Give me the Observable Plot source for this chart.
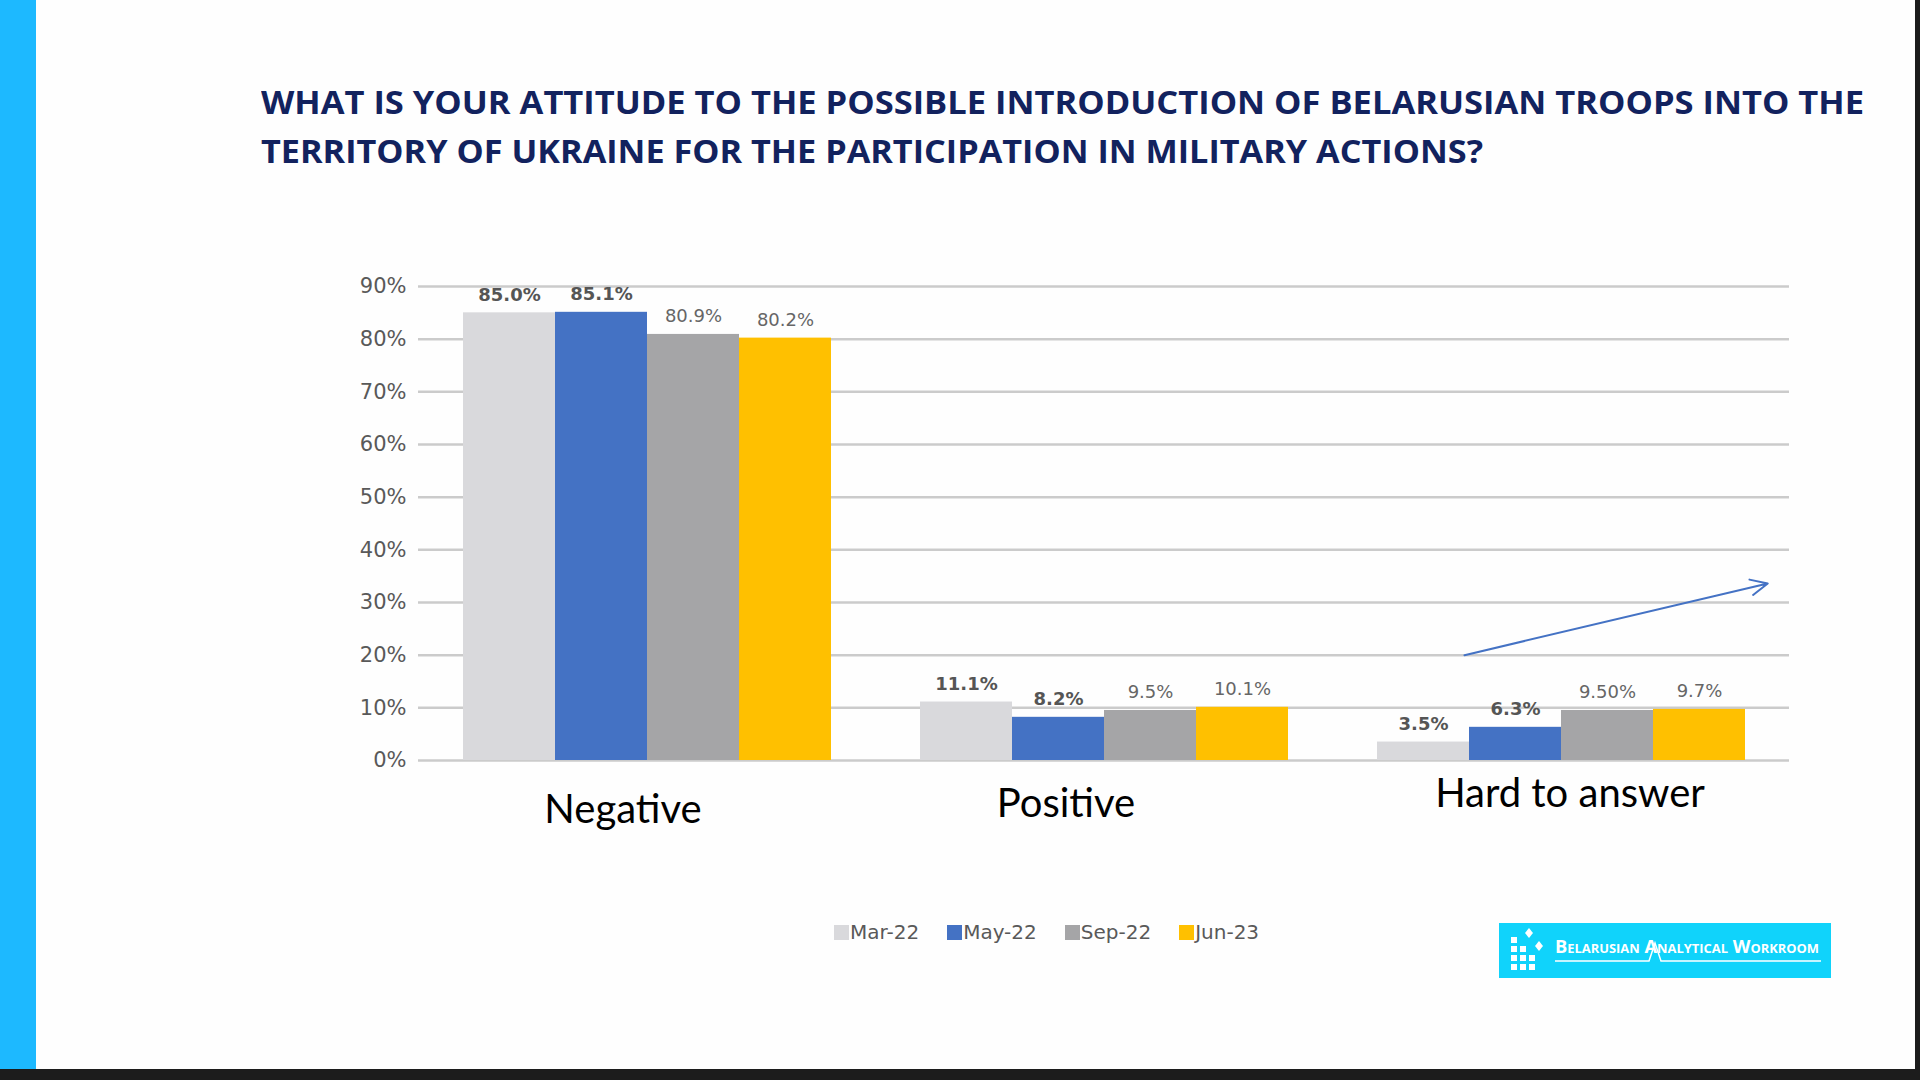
<!DOCTYPE html>
<html>
<head>
<meta charset="utf-8">
<script src="https://cdn.jsdelivr.net/npm/d3@7"></script>
<script src="https://cdn.jsdelivr.net/npm/@observablehq/plot@0.6"></script>
<style>
  html, body { margin: 0; padding: 0; width: 1920px; height: 1080px; overflow: hidden; background: #fefefe; }
  #side { position: absolute; left: 0; top: 0; width: 36px; height: 1080px; background: #1db9ff; }
  #right { position: absolute; left: 1915px; top: 0; width: 5px; height: 1080px; background: #1c1c1c; }
  #bottom { position: absolute; left: 0; top: 1069px; width: 1920px; height: 11px; background: #1c1c1c; }
  .title { position: absolute; left: 261px; font-family: "Open Sans", sans-serif; font-weight: 700; font-size: 33px; line-height: 33px; color: #12225e; white-space: nowrap; transform-origin: 0 0; }
  #chart { position: absolute; left: 0; top: 0; }
  #legend { position: absolute; left: 834px; top: 917px; display: flex; font-family: "DejaVu Sans", sans-serif; font-size: 20px; line-height: 30px; color: #595959; }
  #legend .item { display: flex; align-items: center; margin-right: 28px; }
  #legend .sw { width: 15px; height: 15px; margin-right: 1px; }
  #logo { position: absolute; left: 1499px; top: 923px; width: 332px; height: 55px; background: #10d3fb; }
</style>
</head>
<body>
<div id="side"></div>
<div id="right"></div>
<div id="bottom"></div>
<div class="title" id="t1" style="top:85px">WHAT IS YOUR ATTITUDE TO THE POSSIBLE INTRODUCTION OF BELARUSIAN TROOPS INTO THE</div>
<div class="title" id="t2" style="top:134px">TERRITORY OF UKRAINE FOR THE PARTICIPATION IN MILITARY ACTIONS?</div>
<div id="chart"></div>
<div id="legend"></div>
<div id="logo">
  <svg width="332" height="55" viewBox="0 0 332 55">
    <g fill="#fff">
      <rect x="12" y="14" width="6" height="6"/>
      <rect x="12" y="23" width="6" height="6"/><rect x="21" y="23" width="6" height="6"/>
      <rect x="12" y="32" width="6" height="6"/><rect x="21" y="32" width="6" height="6"/><rect x="30" y="32" width="6" height="6"/>
      <rect x="12" y="41" width="6" height="6"/><rect x="21" y="41" width="6" height="6"/><rect x="30" y="41" width="6" height="6"/>
      <path d="M30,5 L34,10 L30,15 L26,10 Z"/>
      <path d="M40,18 L44,23 L40,28 L36,23 Z"/>
    </g>
    <text x="56" y="30" fill="#fff" font-family="Open Sans, sans-serif" font-weight="700" font-size="17" style="font-variant: small-caps" textLength="264" lengthAdjust="spacingAndGlyphs">Belarusian Analytical Workroom</text>
    <path d="M56,38 L150,38 L156,20 L162,38 L322,38" fill="none" stroke="#fff" stroke-width="1.5"/>
  </svg>
</div>
<script>
// ---- data ----
const categories = ["Negative", "Positive", "Hard to answer"];
const series = ["Mar-22", "May-22", "Sep-22", "Jun-23"];
const seriesColors = ["#d9d9dc", "#4472c4", "#a5a5a7", "#ffc000"];
const negativeValues = [85.0, 85.1, 80.9, 80.2];
const positiveValues = [11.1, 8.2, 9.5, 10.1];
const hardValues = [3.5, 6.3, 9.5, 9.7];
const negativeLabels = ["85.0%", "85.1%", "80.9%", "80.2%"];
const positiveLabels = ["11.1%", "8.2%", "9.5%", "10.1%"];
const hardLabels = ["3.5%", "6.3%", "9.50%", "9.7%"];
const boldSeries = ["Mar-22", "May-22"];
const yTicks = [0, 10, 20, 30, 40, 50, 60, 70, 80, 90];
// trend arrow annotation over "Hard to answer" (in data units)
const trendArrow = [{category: "Hard to answer", from: "Mar-22", to: "Jun-23", y1: 20, y2: 32.4}];

// ---- build table ----
const valuesBy = [negativeValues, positiveValues, hardValues];
const labelsBy = [negativeLabels, positiveLabels, hardLabels];
const data = [];
categories.forEach((c, ci) => series.forEach((s, si) => {
  data.push({category: c, series: s, value: valuesBy[ci][si], label: labelsBy[ci][si]});
}));

// category labels (text boxes sit slightly off-centre in the original slide)
const catLabel = (c, dx, dy) => Plot.text([c], {fx: d => d, text: d => d, frameAnchor: "bottom", lineAnchor: "top", dx, dy, fontSize: 40, fontFamily: "Lato, sans-serif", fill: "#000"});

const chart = Plot.plot({
  width: 1920,
  height: 860,
  marginLeft: 417,
  marginRight: 130,
  marginTop: 286,
  marginBottom: 100,
  style: {fontFamily: "DejaVu Sans, sans-serif", background: "transparent"},
  fx: {domain: categories, padding: 0, label: null, axis: null},
  x: {domain: series, paddingInner: 0, paddingOuter: 0.46, axis: null},
  y: {domain: [0, 90], label: null},
  color: {domain: series, range: seriesColors},
  marks: [
    Plot.gridY(yTicks, {stroke: "#cbcbcb", strokeOpacity: 1, strokeWidth: 2.5}),
    Plot.axisY(yTicks, {tickSize: 0, tickPadding: 12, fontSize: 21, fill: "#595959", tickFormat: d => d + "%", label: null}),
    catLabel(categories[0], -24, 34),
    catLabel(categories[1], -38, 28),
    catLabel(categories[2], 9, 18),
    Plot.barY(data, {fx: "category", x: "series", y: "value", fill: "series"}),
    Plot.text(data.filter(d => boldSeries.includes(d.series)), {fx: "category", x: "series", y: "value", text: "label", dy: -18, fontSize: 18, fontWeight: "bold", fill: "#555"}),
    Plot.text(data.filter(d => !boldSeries.includes(d.series)), {fx: "category", x: "series", y: "value", text: "label", dy: -18, fontSize: 18, fill: "#666"}),
    Plot.arrow(trendArrow, {fx: "category", x1: "from", x2: "to", y1: "y1", y2: "y2", dx: 41, insetEnd: -28, stroke: "#4472c4", strokeWidth: 2, headLength: 14, headAngle: 50})
  ]
});
document.getElementById("chart").appendChild(chart);

// legend
const legend = document.getElementById("legend");
series.forEach((s, i) => {
  const item = document.createElement("div");
  item.className = "item";
  item.innerHTML = `<span class="sw" style="background:${seriesColors[i]}"></span><span>${s}</span>`;
  legend.appendChild(item);
});

// fit title lines to reference widths
function fit(id, w) {
  const el = document.getElementById(id);
  const r = el.getBoundingClientRect().width;
  el.style.transform = `scaleX(${w / r})`;
}
fit("t1", 1603);
fit("t2", 1222);
</script>
</body>
</html>
